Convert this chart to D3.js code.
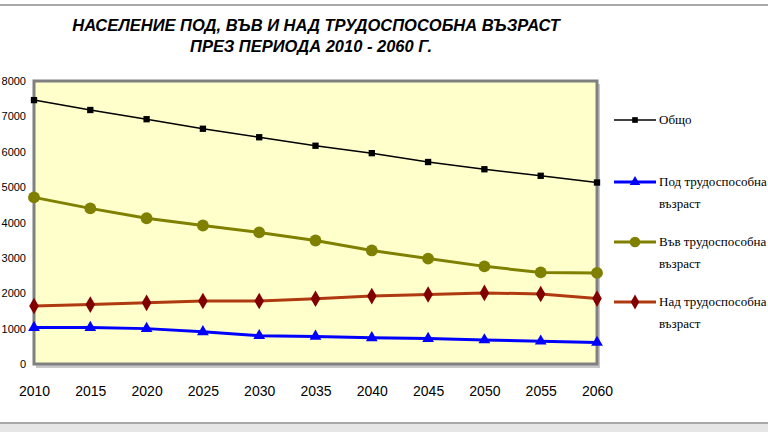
<!DOCTYPE html>
<html><head><meta charset="utf-8">
<script src="https://cdn.jsdelivr.net/npm/d3@7"></script>
<style>html,body{margin:0;padding:0;background:#fff;overflow:hidden}</style>
</head><body>
<svg id="c" width="768" height="432"></svg>
<script>
const years = [2010,2015,2020,2025,2030,2035,2040,2045,2050,2055,2060];
const total = [7460,7180,6920,6650,6410,6170,5960,5710,5505,5320,5130];
const underAge = [1030,1030,1000,910,800,780,740,720,680,645,610];
const workAge = [4710,4400,4120,3915,3720,3490,3210,2980,2760,2590,2575];
const overAge = [1640,1680,1730,1780,1780,1845,1920,1965,2010,1980,1850];
const yTicks = [0,1000,2000,3000,4000,5000,6000,7000,8000];
const titleLines = ["НАСЕЛЕНИЕ ПОД, ВЪВ И НАД ТРУДОСПОСОБНА ВЪЗРАСТ","ПРЕЗ ПЕРИОДА 2010 - 2060 Г."];
const seriesNames = ["Общо","Под трудоспособна възраст","Във трудоспособна възраст","Над трудоспособна възраст"];

const series = [
  {name:seriesNames[0], values:total, line:"#000000", mark:"#000000", shape:d3.symbolSquare, size:40, w:1.5, lines:["Общо"]},
  {name:seriesNames[1], values:underAge, line:"#0000ff", mark:"#0000ff", shape:d3.symbolTriangle, size:60, w:3, lines:["Под трудоспособна","възраст"]},
  {name:seriesNames[2], values:workAge, line:"#808000", mark:"#808000", shape:d3.symbolCircle, size:110, w:3, lines:["Във трудоспособна","възраст"]},
  {name:seriesNames[3], values:overAge, line:"#b03a10", mark:"#800000", shape:d3.symbolDiamond, size:80, w:3, lines:["Над трудоспособна","възраст"]}
];

const svg = d3.select("#c");
// top & bottom rules
svg.append("rect").attr("x",0).attr("y",4).attr("width",768).attr("height",2).attr("fill","#a8a8a8");
svg.append("rect").attr("x",0).attr("y",422).attr("width",768).attr("height",2).attr("fill","#a8a8a8");
svg.append("rect").attr("x",0).attr("y",424).attr("width",768).attr("height",8).attr("fill","#e6e6e6");

// title
const title = svg.append("text").attr("text-anchor","middle")
  .attr("font-family","'Liberation Sans Narrow','Arial Narrow','Liberation Sans',Arial,sans-serif")
  .attr("font-size",16.5).attr("font-weight","bold").attr("font-style","italic").attr("fill","#000");
const titleX = [316,311];
titleLines.forEach((t,i)=>title.append("tspan").attr("x",titleX[i]).attr("y",31+i*21).text(t));

const x = d3.scalePoint().domain(years).range([34,597]);
const y = d3.scaleLinear().domain([0,8000]).range([364,81]);

// plot area with shadow
svg.append("rect").attr("x",36).attr("y",84).attr("width",564).attr("height",284).attr("fill","#c8c8c8");
svg.append("rect").attr("x",x(2010)).attr("y",y(8000)).attr("width",x(2060)-x(2010)).attr("height",y(0)-y(8000))
  .attr("fill","#ffffcc").attr("stroke","#808080").attr("stroke-width",3);

// y axis labels
const yAxis = d3.axisLeft(y).tickValues(yTicks).tickSize(0).tickPadding(0).tickFormat(d3.format("d"));
const gy = svg.append("g").attr("transform","translate(26,0)").call(yAxis);
gy.select(".domain").remove();
gy.selectAll("text").attr("font-family","'Liberation Sans',Arial,sans-serif").attr("font-size",11).attr("fill","#000");

// x axis labels
const xAxis = d3.axisBottom(x).tickSize(0).tickPadding(0);
const gx = svg.append("g").attr("transform","translate(0,386)").call(xAxis);
gx.select(".domain").remove();
gx.selectAll("text").attr("font-family","'Liberation Sans',Arial,sans-serif").attr("font-size",14).attr("fill","#000");

const plot = svg.append("g");
const lineGen = d3.line().x((d,i)=>x(years[i])).y(d=>y(d));
series.forEach(s=>{
  plot.append("path").datum(s.values).attr("d",lineGen).attr("fill","none")
    .attr("stroke",s.line).attr("stroke-width",s.w);
  plot.selectAll(null).data(s.values).enter().append("path")
    .attr("transform",(d,i)=>`translate(${x(years[i])},${y(d)})`)
    .attr("d",d3.symbol().type(s.shape).size(s.size)).attr("fill",s.mark);
});

// legend
const legY = [120,182,242,302];
series.forEach((s,k)=>{
  const g = svg.append("g").attr("transform",`translate(0,${legY[k]})`);
  g.append("line").attr("x1",614).attr("x2",656).attr("y1",0).attr("y2",0).attr("stroke",s.line).attr("stroke-width",s.w);
  g.append("path").attr("transform","translate(635,0)").attr("d",d3.symbol().type(s.shape).size(s.size*0.8)).attr("fill",s.mark);
  const t = g.append("text").attr("font-family","'Liberation Serif','Times New Roman',serif").attr("font-size",13).attr("fill","#000");
  s.lines.forEach((l,i)=>t.append("tspan").attr("x",659).attr("y",4+i*22).text(l));
});
</script>
</body></html>
